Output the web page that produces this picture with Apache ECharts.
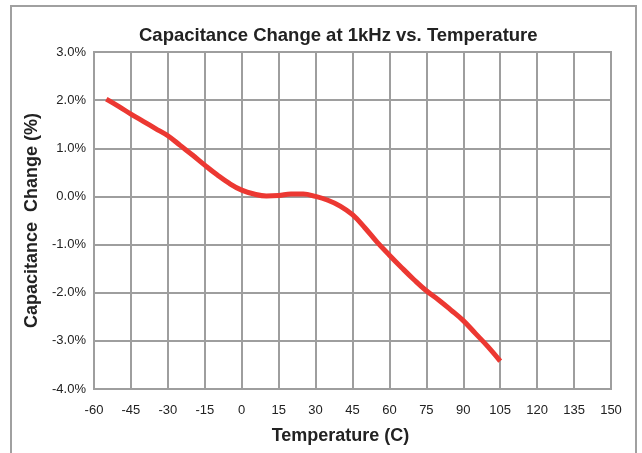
<!DOCTYPE html>
<html>
<head>
<meta charset="utf-8">
<script src="https://cdn.jsdelivr.net/npm/echarts@6/dist/echarts.min.js"></script>
<style>
  html, body { margin: 0; padding: 0; background: #fff; }
  #chart { width: 642px; height: 453px; }
</style>
</head>
<body>
<div id="chart"></div>
<script>
// 温度 (C)
var temps = [-55, -50, -45, -40, -35, -30, -25, -20, -15, -10, -5, 0, 5, 10, 15, 20, 25, 30,
             35, 40, 45, 50, 55, 60, 65, 70, 75, 80, 85, 90, 95, 100, 105];
// 电容变化 (%)
var capChange = [2.02, 1.87, 1.71, 1.56, 1.41, 1.26, 1.06, 0.86, 0.65, 0.45, 0.27, 0.13, 0.05, 0.01, 0.02, 0.05, 0.05, 0.0,
                 -0.08, -0.2, -0.38, -0.65, -0.95, -1.22, -1.48, -1.73, -1.96, -2.15, -2.36, -2.58, -2.85, -3.12, -3.42];

var font = 'Arial, "Liberation Sans", sans-serif';
var gridColor = '#9e9e9e';

var chart = echarts.init(document.getElementById('chart'));

var data = temps.map(function (t, i) { return [t, capChange[i]]; });

var option = {
    animation: false,
    graphic: [{
        type: 'rect',
        shape: { x: 11, y: 6, width: 625, height: 470 },
        style: { fill: 'none', stroke: '#a0a0a0', lineWidth: 2 },
        silent: true
    }],
    title: {
        text: 'Capacitance Change at 1kHz vs. Temperature',
        left: 134,
        top: 21,
        textStyle: { fontFamily: font, fontSize: 18.5, fontWeight: 'bold', color: '#222' }
    },
    grid: {
        left: 94, right: 31, top: 52, bottom: 64,
        show: true,
        borderColor: gridColor,
        borderWidth: 2
    },
    xAxis: {
        type: 'value',
        min: -60, max: 150, interval: 15,
        name: 'Temperature (C)',
        nameLocation: 'middle',
        nameGap: 38,
        nameTextStyle: { fontFamily: font, fontSize: 18, fontWeight: 'bold', color: '#222', padding: [0, 24, 0, 0] },
        axisLine: { show: false },
        axisTick: { show: false },
        axisLabel: { fontFamily: font, fontSize: 13, color: '#222', margin: 15 },
        splitLine: { lineStyle: { color: gridColor, width: 2 } }
    },
    yAxis: {
        type: 'value',
        min: -4, max: 3, interval: 1,
        name: 'Capacitance  Change (%)',
        nameLocation: 'middle',
        nameRotate: 90,
        nameGap: 53,
        nameTextStyle: { fontFamily: font, fontSize: 18, fontWeight: 'bold', color: '#222' },
        axisLine: { show: false },
        axisTick: { show: false },
        axisLabel: {
            fontFamily: font, fontSize: 13, color: '#222', margin: 8,
            formatter: function (v) { return v.toFixed(1) + '%'; }
        },
        splitLine: { lineStyle: { color: gridColor, width: 2 } }
    },
    series: [{
        type: 'line',
        data: data,
        smooth: 0.4,
        showSymbol: false,
        lineStyle: { color: '#ec3832', width: 5 }
    }]
};

chart.setOption(option);
</script>
</body>
</html>
